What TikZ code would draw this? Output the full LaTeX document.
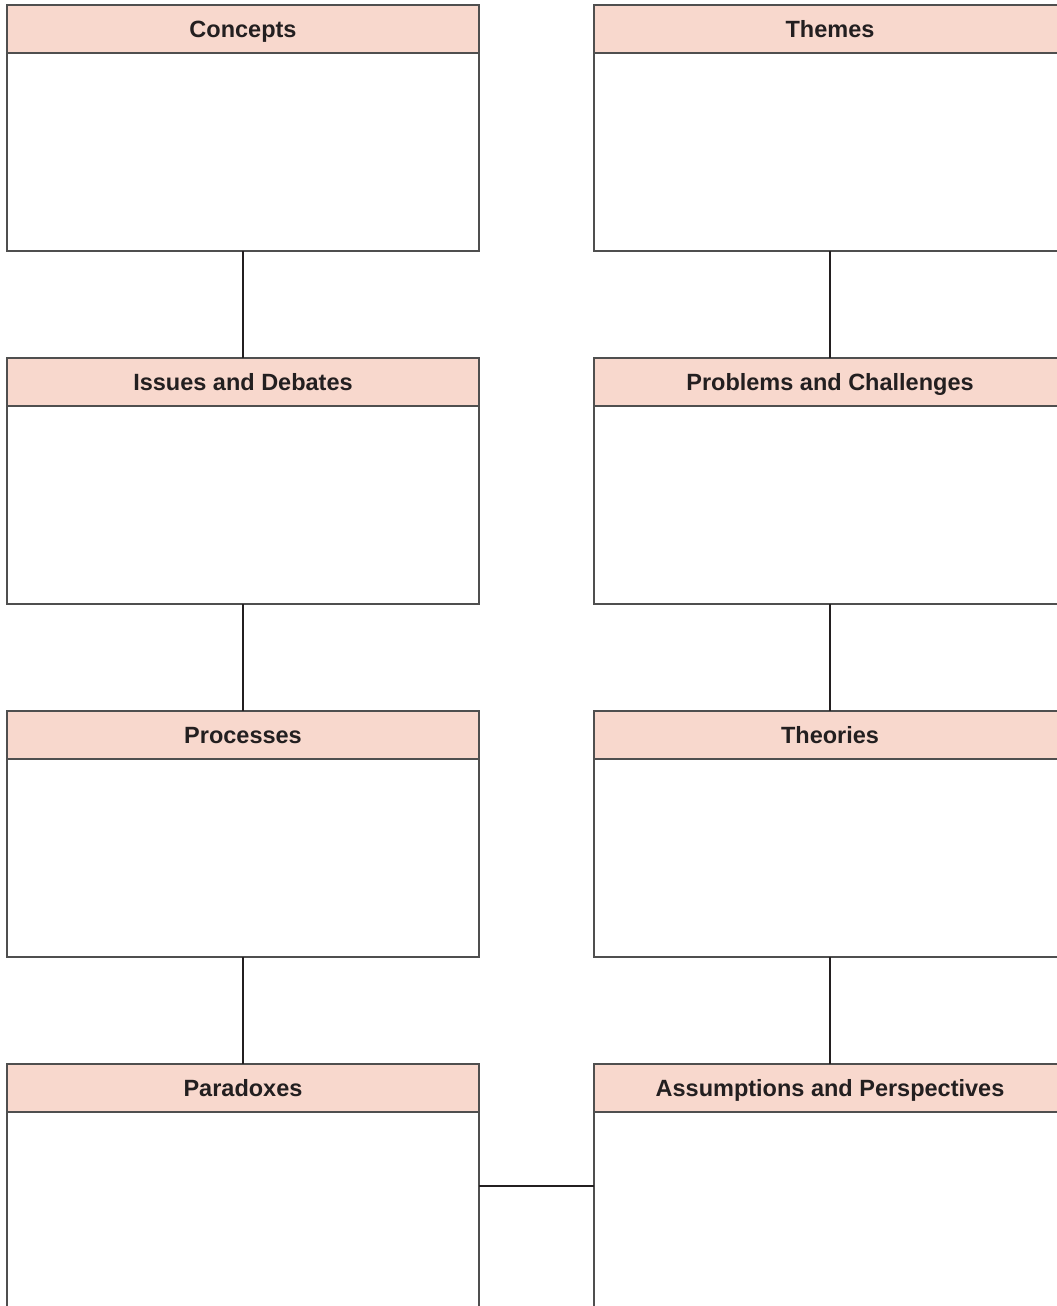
\documentclass[tikz,border=0pt]{standalone}
\usepackage{fontspec}
\setmainfont{Liberation Sans}
\usepackage{tikz}
\usetikzlibrary{positioning}

\definecolor{headpink}{HTML}{F8D8CD}
\definecolor{edgegray}{HTML}{4F4F4F}
\definecolor{inkdark}{HTML}{231F20}

\tikzset{
	heading/.style={draw=edgegray, fill=headpink, line width=1.2pt, minimum width=472pt, minimum height=48pt, inner sep=0pt, outer sep=0pt, text height=19pt, text depth=2pt, text=inkdark, font=\fontsize{23.5}{28}\selectfont\bfseries},
	panel/.style={draw=edgegray, line width=1.2pt, minimum width=472pt, minimum height=198pt, inner sep=0pt, outer sep=0pt},
	link/.style={draw=inkdark, line width=1.3pt}
}

\begin{document}
\begin{tikzpicture}[x=1pt, y=1pt]
			\useasboundingbox (0,0) rectangle (1057,-1306);
			\clip (0,0) rectangle (1057,-1306);
			
			% Left column
			\node[heading] (concepts) at (243,-29) {Concepts};
			\node[panel, below=0pt of concepts] (conceptsbox) {};
			\node[heading, below=107pt of conceptsbox] (issues) {Issues and Debates};
			\node[panel, below=0pt of issues] (issuesbox) {};
			\node[heading, below=107pt of issuesbox] (processes) {Processes};
			\node[panel, below=0pt of processes] (processesbox) {};
			\node[heading, below=107pt of processesbox] (paradoxes) {Paradoxes};
			\node[panel, below=0pt of paradoxes] (paradoxesbox) {};
			
			% Right column
			\node[heading] (themes) at (830,-29) {Themes};
			\node[panel, below=0pt of themes] (themesbox) {};
			\node[heading, below=107pt of themesbox] (problems) {Problems and Challenges};
			\node[panel, below=0pt of problems] (problemsbox) {};
			\node[heading, below=107pt of problemsbox] (theories) {Theories};
			\node[panel, below=0pt of theories] (theoriesbox) {};
			\node[heading, below=107pt of theoriesbox] (assumptions) {Assumptions and Perspectives};
			\node[panel, below=0pt of assumptions] (assumptionsbox) {};
			
			% Links
			\draw[link] (conceptsbox) -- (issues);
			\draw[link] (issuesbox) -- (processes);
			\draw[link] (processesbox) -- (paradoxes);
			\draw[link] (themesbox) -- (problems);
			\draw[link] (problemsbox) -- (theories);
			\draw[link] (theoriesbox) -- (assumptions);
			
			% Bridge between the columns
			\coordinate (bridge) at (537,-1186);
			\draw[link] (paradoxesbox.east |- bridge) -- (assumptionsbox.west |- bridge);
		\end{tikzpicture}
\end{document}
